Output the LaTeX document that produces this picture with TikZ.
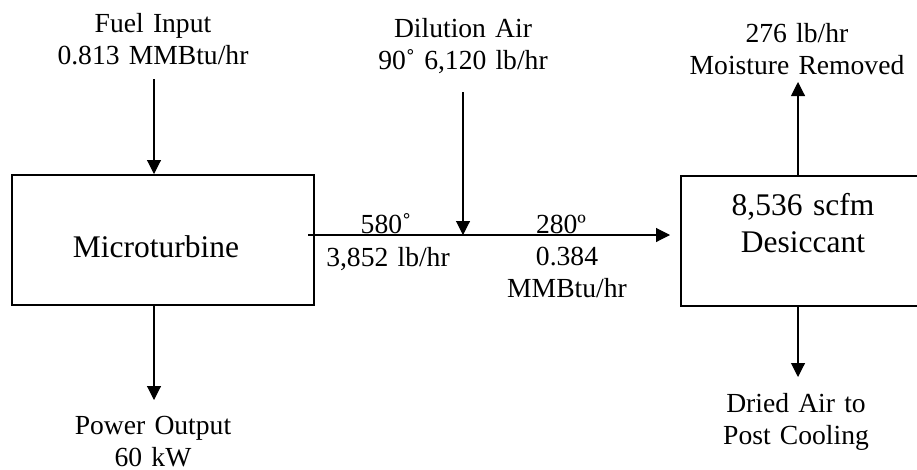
\documentclass[tikz,border=0pt]{standalone}
\usepackage{fontspec}
\setmainfont{Liberation Serif}
\usetikzlibrary{arrows.meta}
\begin{document}
\begin{tikzpicture}[x=1pt,y=-1pt,
  boxstyle/.style={draw,line width=2pt,minimum height=130pt,inner sep=0pt},
  lbl/.style={anchor=base,text width=260pt,align=center,inner sep=0pt,font=\fontsize{27.6}{32}\selectfont},
  boxtxt/.style={anchor=base,text width=260pt,align=center,inner sep=0pt,font=\fontsize{31.5}{37}\selectfont},
  arr/.style={line width=1.1pt,-{Triangle[width=14pt,length=14pt]}}]
\useasboundingbox (0,0) rectangle (917,469);
\clip (0,0) rectangle (917,469);

% boxes
\node[boxstyle,minimum width=302pt] (mt) at (163,240) {};
\node[boxstyle,minimum width=246pt] (des) at (804,241) {};
\node[boxtxt] (mttxt) at (156,257) {Microturbine};
\node[boxtxt] (destxt) at (803,215) {8,536 scfm\\Desiccant};

% labels
\node[lbl] (fuel) at (153,32) {Fuel Input\\0.813 MMBtu/hr};
\node[lbl] (dil) at (463,37) {Dilution Air\\90˚ 6,120 lb/hr};
\node[lbl] (moist) at (797,42) {276 lb/hr\\Moisture Removed};
\node[lbl] (dried) at (796,412) {Dried Air to\\Post Cooling};
\node[lbl] (power) at (153,434) {Power Output\\60 kW};
\node[lbl] (t580) at (386,233) {580˚};
\node[lbl] (m3852) at (388,266) {3,852 lb/hr};
\node[lbl] (t280) at (561,233) {280º};
\node[lbl] (mmb) at (567,265) {0.384\\MMBtu/hr};

% connector ends
\coordinate (fuelA) at (154,79);
\coordinate (dilA) at (463,92);
\coordinate (flowS) at (308,235);
\coordinate (flowE) at (670,235);
\coordinate (mUp) at (798,82);
\coordinate (dDn) at (798,377);
\coordinate (pDn) at (154,400);

% connectors
\draw[arr] (fuelA) -- (fuelA |- mt.north);
\draw[arr] (pDn |- mt.south) -- (pDn);
\draw[arr] (flowS) -- (flowE);
\draw[arr] (dilA) -- (dilA |- flowS);
\draw[arr] (mUp |- des.north) -- (mUp);
\draw[arr] (dDn |- des.south) -- (dDn);
\end{tikzpicture}
\end{document}
